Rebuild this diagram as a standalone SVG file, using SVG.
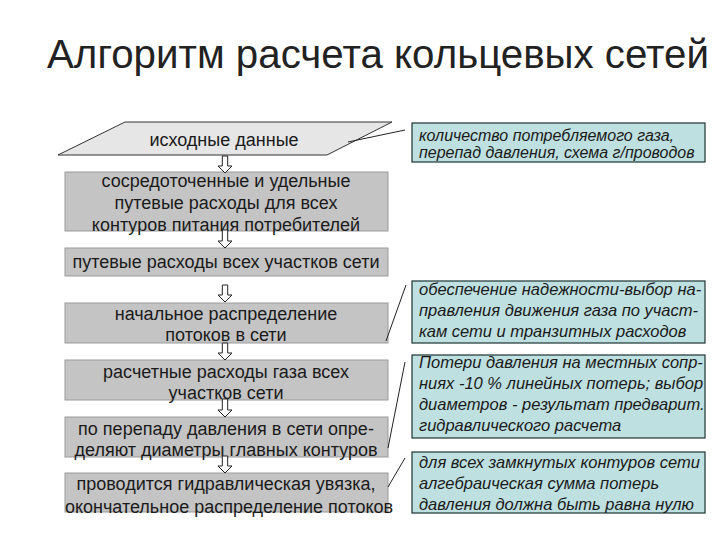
<svg xmlns="http://www.w3.org/2000/svg" width="720" height="540" viewBox="0 0 720 540">
<defs>
<style>
.title{font-family:"Liberation Sans",Arial,sans-serif;font-size:40px;fill:#222}
.box{fill:#c4c4c4;stroke:#9a9a9a;stroke-width:1}
.para{fill:#e6e6e6;stroke:#333;stroke-width:1}
.lt{font-family:"Liberation Sans",Arial,sans-serif;font-size:18px;fill:#1a1a1a;text-anchor:middle}
.note{fill:#bfe0e0;stroke:#1d3333;stroke-width:1.2}
.nt{font-family:"Liberation Sans",Arial,sans-serif;font-size:16.5px;font-style:italic;fill:#1a1a1a}
.nt1{font-size:16px}
.arr{fill:#fff;stroke:#222;stroke-width:1}
.cl{fill:none;stroke:#222;stroke-width:1}
</style>
</defs>
<rect x="0" y="0" width="720" height="540" fill="#fff"/>
<text class="title" x="47" y="68" textLength="662" lengthAdjust="spacingAndGlyphs">Алгоритм расчета кольцевых сетей</text>

<g id="n0">
<polygon class="para" points="125,122 392,122 327,155 58,155"/>
<text class="lt" x="224" y="146">исходные данные</text>
</g>
<g id="n1">
<rect class="box" x="65" y="172" width="323" height="59"/>
<text class="lt" x="226" y="187">сосредоточенные и удельные</text>
<text class="lt" x="226" y="209">путевые расходы для всех</text>
<text class="lt" x="226" y="231">контуров питания потребителей</text>
</g>
<g id="n2">
<rect class="box" x="65" y="248" width="323" height="28"/>
<text class="lt" x="226" y="268">путевые расходы всех участков сети</text>
</g>
<g id="n3">
<rect class="box" x="65" y="303" width="323" height="40"/>
<text class="lt" x="226" y="320">начальное распределение</text>
<text class="lt" x="226" y="341">потоков в сети</text>
</g>
<g id="n4">
<rect class="box" x="65" y="360" width="323" height="40"/>
<text class="lt" x="226" y="378">расчетные расходы газа всех</text>
<text class="lt" x="226" y="399">участков сети</text>
</g>
<g id="n5">
<rect class="box" x="65" y="417" width="323" height="40"/>
<text class="lt" x="226" y="435">по перепаду давления в сети опре-</text>
<text class="lt" x="226" y="456">деляют диаметры главных контуров</text>
</g>
<g id="n6">
<rect class="box" x="65" y="473" width="323" height="39"/>
<text class="lt" x="226" y="490">проводится гидравлическая увязка,</text>
<text class="lt" x="229" y="513">окончательное распределение потоков</text>
</g>

<g id="note1">
<rect class="note" x="412" y="123" width="293" height="39"/>
<text class="nt nt1" x="419" y="141">количество потребляемого газа,</text>
<text class="nt nt1" x="419" y="158">перепад давления, схема г/проводов</text>
</g>
<g id="note2">
<rect class="note" x="412" y="281" width="293" height="62"/>
<text class="nt" x="419" y="295">обеспечение надежности-выбор на-</text>
<text class="nt" x="419" y="316">правления движения газа по участ-</text>
<text class="nt" x="419" y="337">кам сети и транзитных расходов</text>
</g>
<g id="note3">
<rect class="note" x="412" y="355" width="293" height="83"/>
<text class="nt" x="419" y="368">Потери давления на местных сопр-</text>
<text class="nt" x="419" y="389">ниях -10 % линейных потерь; выбор</text>
<text class="nt" x="419" y="410">диаметров - результат предварит.</text>
<text class="nt" x="419" y="431">гидравлического расчета</text>
</g>
<g id="note4">
<rect class="note" x="412" y="452" width="293" height="61"/>
<text class="nt" x="419" y="468">для всех замкнутых контуров сети</text>
<text class="nt" x="419" y="489">алгебраическая сумма потерь</text>
<text class="nt" x="419" y="510">давления должна быть равна нулю</text>
</g>

<g id="connectors">
<polygon class="arr" points="222.3,156 227.7,156 227.7,166 232,166 225,173 218,166 222.3,166"/>
<polygon class="arr" points="222.3,230 227.7,230 227.7,241 232,241 225,248 218,241 222.3,241"/>
<polygon class="arr" points="222.3,285 227.7,285 227.7,295 232,295 225,302 218,295 222.3,295"/>
<polygon class="arr" points="222.3,343 227.7,343 227.7,353 232,353 225,360 218,353 222.3,353"/>
<polygon class="arr" points="222.3,399 227.7,399 227.7,410 232,410 225,417 218,410 222.3,410"/>
<polygon class="arr" points="222.3,456 227.7,456 227.7,466 232,466 225,473 218,466 222.3,466"/>
<line class="cl" x1="348" y1="142" x2="405" y2="130"/>
<line class="cl" x1="406" y1="285" x2="386" y2="341"/>
<line class="cl" x1="405" y1="362" x2="388" y2="448"/>
<line class="cl" x1="405" y1="458" x2="388" y2="487"/>
</g>
</svg>
